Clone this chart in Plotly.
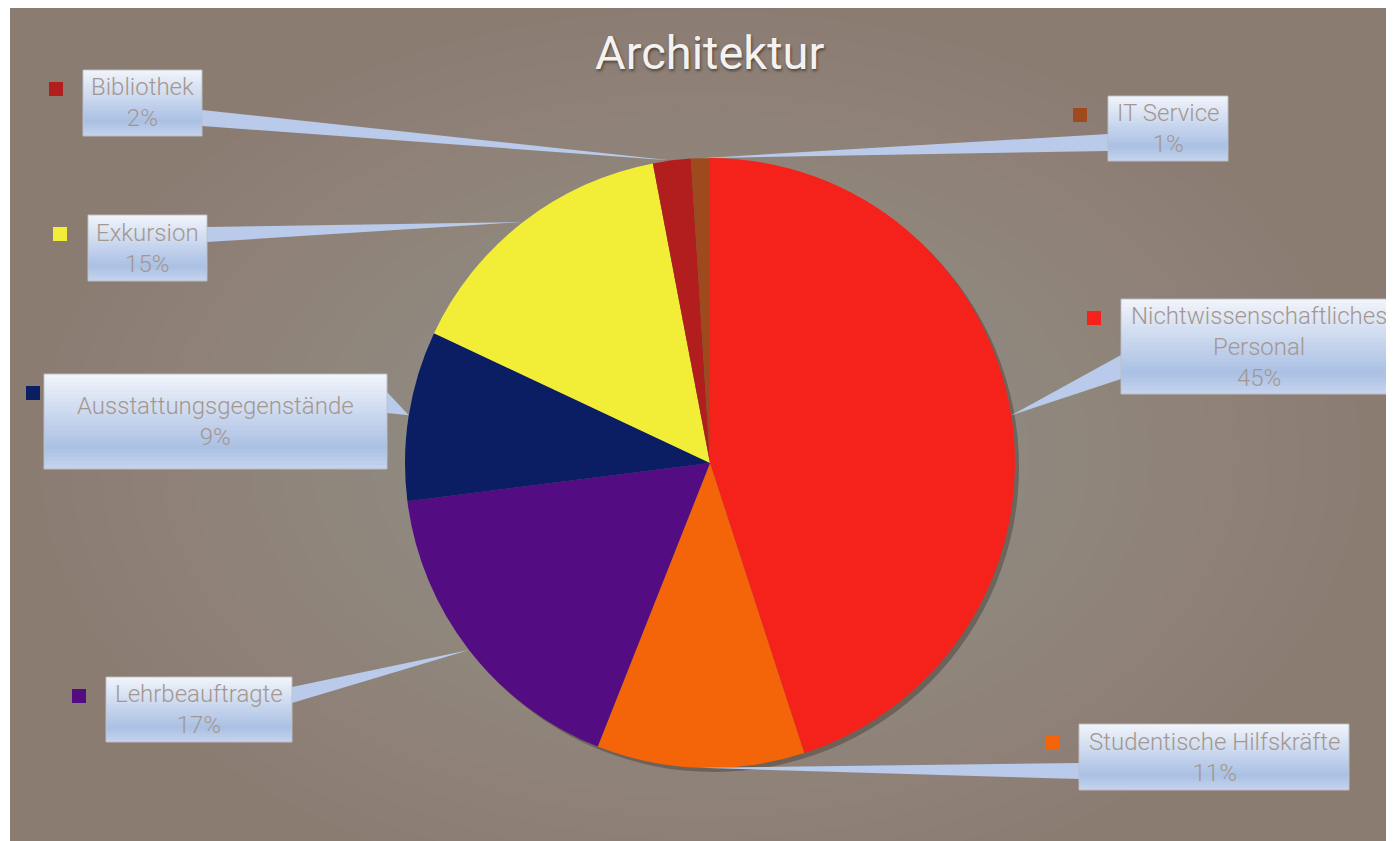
import math
import plotly.graph_objects as go

W, H = 1394, 841

# slice data, clockwise from 12 o'clock
labels = ['Nichtwissenschaftliches<br>Personal', 'Studentische Hilfskräfte', 'Lehrbeauftragte',
          'Ausstattungsgegenstände', 'Exkursion', 'Bibliothek', 'IT Service']
values = [45, 11, 17, 9, 15, 2, 1]
colors = ['#f5221b', '#f46408', '#540c82', '#0b1d63', '#f2ee38', '#b21e1e', '#9f4a1e']

# callout layout in pixels: box (x0, y0, x1, y1), side of the pointer, pointer base (y0, y1), key left x
boxes = [
    ((1121, 299, 1396, 394), 'left', (355, 379), 1087),
    ((1079, 724, 1349, 790), 'left', (763, 779), 1045),
    ((106, 677, 292, 742), 'right', (687, 703), 72),
    ((44, 374, 387, 469), 'right', (392, 413), 26),
    ((88, 215, 207, 281), 'right', (227, 242), 53),
    ((83, 70, 202, 136), 'right', (110, 126), 49),
    ((1108, 96, 1228, 161), 'left', (134, 151), 1073),
]

CX, CY, R = 710, 463, 305
TEXT = '#a4978f'
OFF = 8  # page margin around the plot div


def px(x):
    return (x - OFF) / W


def py(y):
    return 1 - (y - OFF) / H


def mix(c1, c2, t):
    return 'rgb(%d,%d,%d)' % tuple(round(a + (b - a) * t) for a, b in zip(c1, c2))


fig = go.Figure()

# soft shadow under the pie
sh = 4
fig.add_trace(go.Pie(values=[1], marker=dict(colors=['rgba(45,35,30,0.35)']),
                     textinfo='none', hoverinfo='skip', showlegend=False, sort=False,
                     domain=dict(x=[px(CX - R + sh), px(CX + R + sh)], y=[py(CY + R + sh), py(CY - R + sh)])))

fig.add_trace(go.Pie(labels=[l.replace('<br>', ' ') for l in labels], values=values,
                     marker=dict(colors=colors, line=dict(width=0)),
                     sort=False, direction='clockwise', rotation=0,
                     textinfo='none', showlegend=False,
                     domain=dict(x=[px(CX - R), px(CX + R)], y=[py(CY + R), py(CY - R)])))

shapes = []
# background with a radial glow
shapes.append(dict(type='rect', xref='paper', yref='paper', x0=px(10), x1=1, y0=0, y1=1,
                   fillcolor='#8a7c71', line=dict(width=0), layer='below'))
n_glow = 22
for i in range(n_glow):
    f = 1 - i / n_glow
    shapes.append(dict(type='circle', xref='paper', yref='paper',
                       x0=px(700 - 660 * f), x1=px(700 + 660 * f),
                       y0=py(455 + 445 * f), y1=py(455 - 445 * f),
                       fillcolor='rgba(176,164,156,0.036)', line=dict(width=0), layer='below'))

total = sum(values)
cum = 0
annotations = []
top, mid, bot = (241, 244, 251), (170, 192, 228), (198, 212, 238)
for lab, v, col, (box, side, base, kx) in zip(labels, values, colors, boxes):
    ang = math.radians((cum + v / 2) / total * 360)
    cum += v
    tx, ty = CX + R * math.sin(ang), CY - R * math.cos(ang)
    x0, y0, x1, y1 = box
    bx = x0 if side == 'left' else x1
    # pointer wedge
    shapes.append(dict(type='path', xref='paper', yref='paper',
                       path='M %f %f L %f %f L %f %f Z' % (px(bx), py(base[0]), px(tx), py(ty), px(bx), py(base[1])),
                       fillcolor='#b9caea', line=dict(width=0), layer='above'))
    # gradient box as overlapping strips (each runs to the bottom, so no seams)
    n = 24
    for k in range(n):
        t = (k + 0.5) / n
        c = mix(top, mid, t / 0.78) if t < 0.78 else mix(mid, bot, (t - 0.78) / 0.22)
        shapes.append(dict(type='rect', xref='paper', yref='paper',
                           x0=px(x0), x1=px(x1), y0=py(y1), y1=py(y0 + (y1 - y0) * k / n),
                           fillcolor=c, line=dict(width=0), layer='above'))
    shapes.append(dict(type='rect', xref='paper', yref='paper', x0=px(x0), x1=px(x1), y0=py(y1), y1=py(y0),
                       fillcolor='rgba(0,0,0,0)', line=dict(color='rgba(190,192,200,0.9)', width=1), layer='above'))
    # color key
    shapes.append(dict(type='rect', xref='paper', yref='paper', x0=px(kx), x1=px(kx + 14),
                       y0=py(y0 + 26), y1=py(y0 + 12), fillcolor=col, line=dict(width=0), layer='above'))
    annotations.append(dict(x=px((x0 + x1) / 2), y=py((y0 + y1) / 2), xref='paper', yref='paper',
                            text='%s<br>%d%%' % (lab, round(v / total * 100)), showarrow=False,
                            xanchor='center', yanchor='middle', align='center',
                            font=dict(family='Roboto', size=24, weight=300, color=TEXT)))

annotations.append(dict(x=px(709), y=py(52), xref='paper', yref='paper', text='Architektur', showarrow=False,
                        xanchor='center', yanchor='middle',
                        font=dict(family='Roboto', size=47, color='#f4f2f0',
                                  shadow='1px 2px 3px rgba(40,30,25,0.6)')))

fig.update_layout(width=W, height=H, margin=dict(l=0, r=0, t=0, b=0),
                  paper_bgcolor='white', plot_bgcolor='white',
                  shapes=shapes, annotations=annotations, showlegend=False)

fig.write_html('out.html')
